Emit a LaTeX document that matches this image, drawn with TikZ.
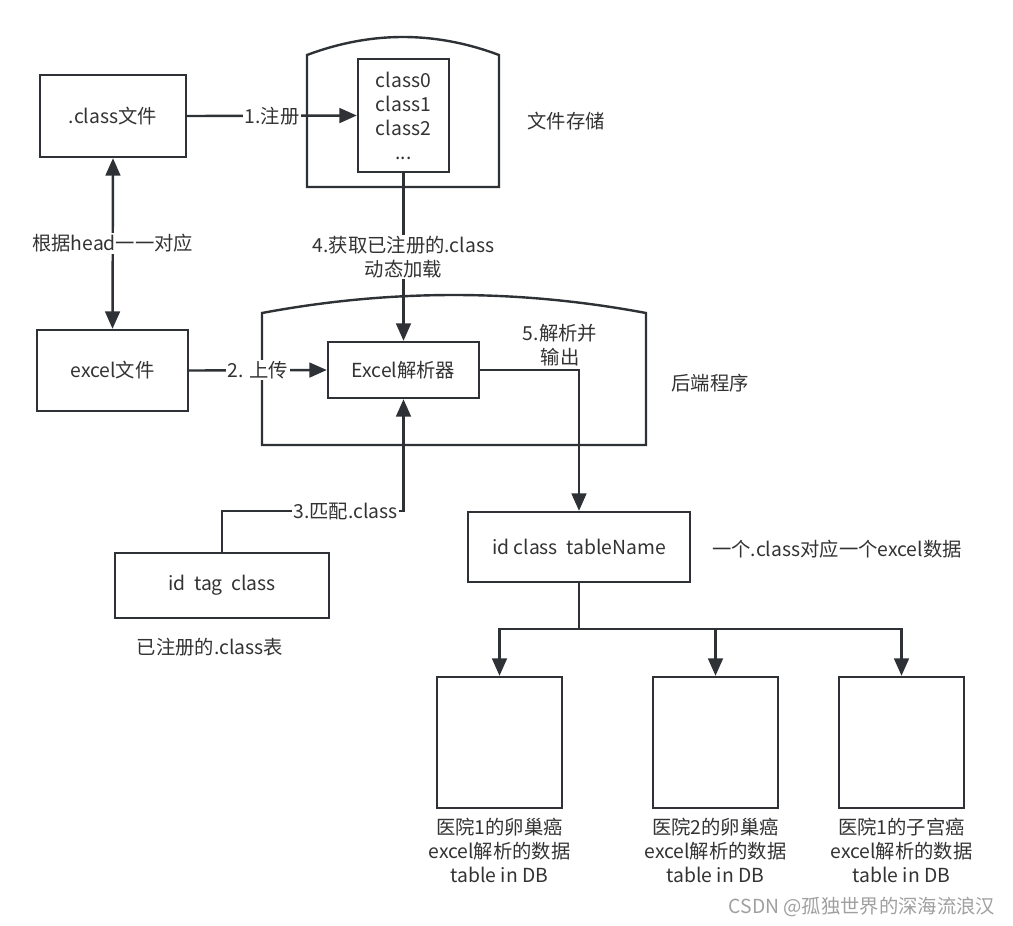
\documentclass[tikz,border=0pt]{standalone}
\usepackage{fontspec}
\setmainfont{Noto Sans CJK SC}
\usetikzlibrary{arrows.meta}
\definecolor{ln}{HTML}{2E3236}
\definecolor{tx}{HTML}{333333}
\definecolor{wm}{HTML}{A0A0A0}
\begin{document}
\begin{tikzpicture}[x=0.75pt,y=-0.75pt,
  font=\fontsize{14.5}{18}\selectfont, text=tx,
  box/.style={draw=ln, line width=1.8pt, fill=white, align=center, inner sep=0pt},
  conn/.style={draw=ln, line width=1.8pt},
  arr/.style={conn, -{Triangle[length=13pt,width=11pt]}},
  darr/.style={conn, {Triangle[length=13pt,width=11pt]}-{Triangle[length=13pt,width=11pt]}},
  lbl/.style={fill=white, inner sep=1pt, align=center},
  txt/.style={align=center, inner sep=0pt}]
\useasboundingbox[fill=white] (0,0) rectangle (1013,925);

% outer shapes
\draw[conn] (307,187) -- (307,55) .. controls (371,31) and (435,31) .. (499,55) -- (499,187) -- cycle;
\draw[conn] (262,445) -- (262,313) .. controls (390,289) and (518,289) .. (646,313) -- (646,445) -- cycle;

% nodes
\node[box, minimum width=109.5pt, minimum height=61.5pt] (cls) at (113,116) {.class文件};
\node[box, minimum width=113.25pt, minimum height=60.75pt] (xls) at (112.5,370.5) {excel文件};
\node[box, minimum width=68.25pt, minimum height=84.75pt] (lst) at (403.5,115.5) {class0\\class1\\class2\\...};
\node[box, minimum width=113.25pt, minimum height=42pt] (par) at (403.5,370) {Excel解析器};
\node[box, minimum width=160.5pt, minimum height=48.75pt] (reg) at (222,585.5) {id\ \ tag\ \ class};
\node[box, minimum width=166.5pt, minimum height=52.5pt] (tbl) at (579,547) {id class\ \ tableName};
\node[box, minimum width=93.75pt, minimum height=98.25pt] (db1) at (499.5,742.5) {};
\node[box, minimum width=93.75pt, minimum height=98.25pt] (db2) at (715.5,742.5) {};
\node[box, minimum width=93.75pt, minimum height=98.25pt] (db3) at (901.5,742.5) {};

% plain texts
\node[txt] (t1) at (566,121) {文件存储};
\node[txt] (t2) at (710,383) {后端程序};
\node[txt] (t3) at (560,345) {5.解析并\\输出};
\node[txt] (t4) at (210,647) {已注册的.class表};
\node[txt] (t5) at (837,549) {一个.class对应一个excel数据};
\node[txt] (d1) at (499.5,850) {医院1的卵巢癌\\excel解析的数据\\table in DB};
\node[txt] (d2) at (715.5,850) {医院2的卵巢癌\\excel解析的数据\\table in DB};
\node[txt] (d3) at (901.5,850) {医院1的子宫癌\\excel解析的数据\\table in DB};
\node[txt, text=wm] (wmk) at (862,907) {CSDN @孤独世界的深海流浪汉};

% connectors
\draw[arr] (cls.east) -- node[lbl] {1.注册} (lst.west);
\draw[darr] (cls.south) -- node[lbl] {根据head一一对应} (xls.north);
\draw[arr] (lst.south) -- node[lbl] {4.获取已注册的.class\\动态加载} (par.north);
\draw[arr] (xls.east) -- node[lbl] {2. 上传} (par.west);
\coordinate (m1) at (222,511);
\coordinate (m2) at (403.5,511);
\draw[arr] (reg.north) -- (m1) -- node[lbl, pos=0.68] {3.匹配.class} (m2) -- (par.south);
\draw[arr] (par.east) -| (tbl.north);
\coordinate (br) at (579,629);
\draw[conn] (tbl.south) -- (br);
\draw[arr] (br) -| (db1.north);
\draw[arr] (br) -| (db2.north);
\draw[arr] (br) -| (db3.north);
\end{tikzpicture}
\end{document}
